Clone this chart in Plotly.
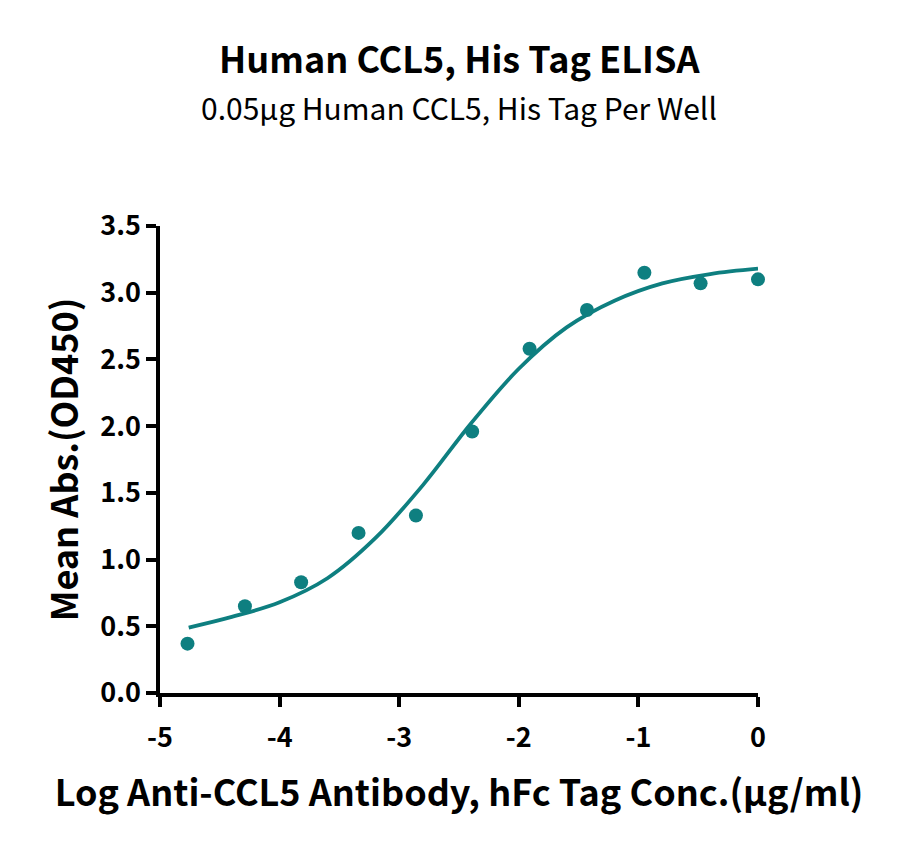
import plotly.graph_objects as go

# measured points (log conc, OD450)
log_conc = [-4.77, -4.29, -3.82, -3.34, -2.86, -2.39, -1.91, -1.43, -0.95, -0.48, 0.0]
mean_abs = [0.37, 0.65, 0.83, 1.20, 1.33, 1.96, 2.58, 2.87, 3.15, 3.07, 3.10]

# fitted curve
fit_x = [-4.76, -4.4, -4.0, -3.6, -3.2, -2.8, -2.4, -2.0, -1.6, -1.2, -0.8, -0.4, 0.0]
fit_y = [0.49, 0.57, 0.68, 0.86, 1.16, 1.56, 2.02, 2.43, 2.74, 2.94, 3.07, 3.14, 3.18]

x_ticks = [-5, -4, -3, -2, -1, 0]
y_ticks = [0.0, 0.5, 1.0, 1.5, 2.0, 2.5, 3.0, 3.5]

teal = "#0e7f80"
font = "Noto Sans CJK SC"

fig = go.Figure()
fig.add_trace(go.Scatter(x=fit_x, y=fit_y, mode="lines",
                         line=dict(color=teal, width=3.8, shape="spline", smoothing=1.0),
                         hoverinfo="skip", cliponaxis=False))
fig.add_trace(go.Scatter(x=log_conc, y=mean_abs, mode="markers",
                         marker=dict(color=teal, size=14), cliponaxis=False))

fig.update_layout(
    width=900, height=848,
    paper_bgcolor="white", plot_bgcolor="white",
    showlegend=False,
    margin=dict(l=152, r=150, t=218, b=163),
    font=dict(family=font, color="black"),
)

# title and subtitle
fig.add_annotation(text="<b>Human CCL5, His Tag ELISA</b>", x=0.5, xref="paper", y=1.362, yref="paper",
                   xanchor="center", yanchor="middle", showarrow=False,
                   font=dict(family=font, size=36, color="black"))
fig.add_annotation(text="0.05µg Human CCL5, His Tag Per Well", x=0.5, xref="paper", y=1.254, yref="paper",
                   xanchor="center", yanchor="middle", showarrow=False,
                   font=dict(family=font, size=30, color="black"))

fig.update_xaxes(
    range=[-5, 0], tickvals=x_ticks, ticktext=[str(v) for v in x_ticks],
    showgrid=False, zeroline=False, showline=True, linecolor="black", linewidth=3.5,
    ticks="outside", ticklen=10, tickwidth=3.5, tickcolor="black", ticklabelstandoff=8,
    tickfont=dict(family=font, size=27, color="black", weight="bold"),
    title=dict(text="<b>Log Anti-CCL5 Antibody, hFc Tag Conc.(µg/ml)</b>", standoff=28,
               font=dict(family=font, size=36, color="black")),
)
fig.update_yaxes(
    range=[0, 3.5], tickvals=y_ticks, ticktext=[f"{v:.1f}" for v in y_ticks],
    showgrid=False, zeroline=False, showline=True, linecolor="black", linewidth=3.5,
    ticks="outside", ticklen=10, tickwidth=3.5, tickcolor="black",
    tickfont=dict(family=font, size=27, color="black", weight="bold"),
    title=dict(text="<b>Mean Abs.(OD450)</b>", standoff=12,
               font=dict(family=font, size=36, color="black")),
)

fig.write_html("out.html")
